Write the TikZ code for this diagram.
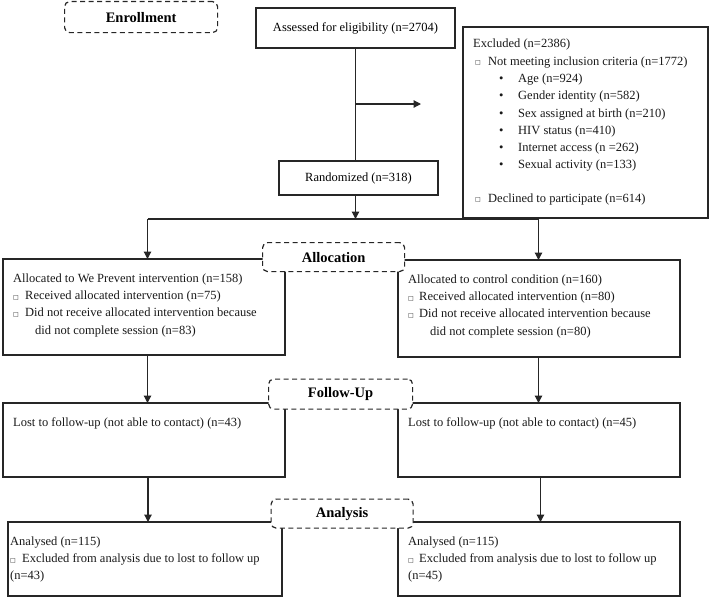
\documentclass[tikz,border=0pt]{standalone}
\usepackage{fontspec}
\setmainfont{Liberation Serif}
\newfontfamily\dejavu{DejaVu Sans}
\usetikzlibrary{arrows.meta}
\newcommand{\sqbox}{{\fontsize{6}{6}\selectfont\dejavu\raisebox{0.3pt}{□}}}
\begin{document}
\begin{tikzpicture}[x=1pt,y=-1pt,
  box/.style={draw=black!85, line width=1.2pt, fill=white, anchor=north west,
    inner sep=0pt, outer sep=0pt, font=\fontsize{12.5}{17.3}\selectfont},
  stage/.style={draw=black!85, line width=1.2pt, dash pattern=on 5pt off 3.5pt,
    rounded corners=5pt, fill=white, anchor=north west, inner sep=0pt,
    font=\fontsize{14.5}{16}\selectfont\bfseries},
  txt/.style={anchor=north west, inner sep=0pt, align=left, text=black!90,
    font=\fontsize{12.5}{17.3}\selectfont},
  arr/.style={draw=black!85, line width=1.2pt, -{Triangle[length=7.5pt,width=7.5pt]}},
  ln/.style={draw=black!85, line width=1.2pt}]
\useasboundingbox (0,0) rectangle (709,597);

% main boxes
\node[box, minimum width=199pt, minimum height=40pt] (assess) at (256,8) {Assessed for eligibility (n=2704)};
\node[box, minimum width=245pt, minimum height=191pt] (excl) at (463,27) {};
\node[box, minimum width=159pt, minimum height=34pt] (rand) at (279,161) {Randomized (n=318)};
\node[box, minimum width=282pt, minimum height=96pt] (allocL) at (3,259) {};
\node[box, minimum width=282pt, minimum height=97pt] (allocR) at (398,260) {};
\node[box, minimum width=282pt, minimum height=74pt] (lostL) at (3,403) {};
\node[box, minimum width=282pt, minimum height=74pt] (lostR) at (398,403) {};
\node[box, minimum width=274pt, minimum height=74pt] (anaL) at (8,522) {};
\node[box, minimum width=282pt, minimum height=74pt] (anaR) at (398,522) {};

% texts
\node[txt] (exclT) at (473,39) {Excluded (n=2386)\\
  \hspace*{2pt}\makebox[13pt][l]{\sqbox}Not meeting inclusion criteria (n=1772)\\
  \hspace*{26pt}\makebox[19pt][l]{•}Age (n=924)\\
  \hspace*{26pt}\makebox[19pt][l]{•}Gender identity (n=582)\\
  \hspace*{26pt}\makebox[19pt][l]{•}Sex assigned at birth (n=210)\\
  \hspace*{26pt}\makebox[19pt][l]{•}HIV status (n=410)\\
  \hspace*{26pt}\makebox[19pt][l]{•}Internet access (n =262)\\
  \hspace*{26pt}\makebox[19pt][l]{•}Sexual activity (n=133)\\[16pt]
  \hspace*{2pt}\makebox[13pt][l]{\sqbox}Declined to participate (n=614)};
\node[txt] (allocLT) at (13,273.5) {Allocated to We Prevent intervention (n=158)\\
  \makebox[12pt][l]{\sqbox}Received allocated intervention (n=75)\\
  \makebox[12pt][l]{\sqbox}Did not receive allocated intervention because\\
  \hspace*{22pt}did not complete session (n=83)};
\node[txt] (allocRT) at (408,274.5) {Allocated to control condition (n=160)\\
  \makebox[11pt][l]{\sqbox}Received allocated intervention (n=80)\\
  \makebox[11pt][l]{\sqbox}Did not receive allocated intervention because\\
  \hspace*{22pt}did not complete session (n=80)};
\node[txt] (lostLT) at (13,417.5) {Lost to follow-up (not able to contact) (n=43)};
\node[txt] (lostRT) at (408,417.5) {Lost to follow-up (not able to contact) (n=45)};
\node[txt] (anaLT) at (10,536.5) {Analysed (n=115)\\
  \makebox[12pt][l]{\sqbox}Excluded from analysis due to lost to follow up\\
  (n=43)};
\node[txt] (anaRT) at (408,536.5) {Analysed (n=115)\\
  \makebox[11pt][l]{\sqbox}Excluded from analysis due to lost to follow up\\
  (n=45)};

% connectors
\coordinate (br) at (assess.south |- 0,104);
\coordinate (brend) at (421,104);
\coordinate (split) at (assess.south |- 0,219);
\coordinate (sl) at (147.5,219);
\coordinate (sr) at (538.5,219);
\draw[ln] (assess.south) -- (assess.south |- rand.north);
\draw[arr] (br) -- (brend);
\draw[arr] (assess.south |- rand.south) -- (split);
\draw[ln] (sl) -- (sr);
\draw[arr] (sl) -- (sl |- allocL.north);
\draw[arr] (sr) -- (sr |- allocR.north);
\draw[arr] (sl |- allocL.south) -- (sl |- lostL.north);
\draw[arr] (sr |- allocR.south) -- (sr |- lostR.north);
\coordinate (cl) at (148,0);
\coordinate (cr) at (540.5,0);
\draw[arr] (cl |- lostL.south) -- (cl |- anaL.north);
\draw[arr] (cr |- lostR.south) -- (cr |- anaR.north);

% stage labels
\node[stage, minimum width=153pt, minimum height=31pt] (enroll) at (64,1) {Enrollment};
\node[stage, minimum width=142pt, minimum height=29pt] (allocS) at (262,242) {Allocation};
\node[stage, minimum width=144pt, minimum height=30pt] (follow) at (268,378.5) {Follow-Up};
\node[stage, minimum width=142pt, minimum height=29pt] (analysis) at (270.5,498.5) {Analysis};
\end{tikzpicture}
\end{document}
